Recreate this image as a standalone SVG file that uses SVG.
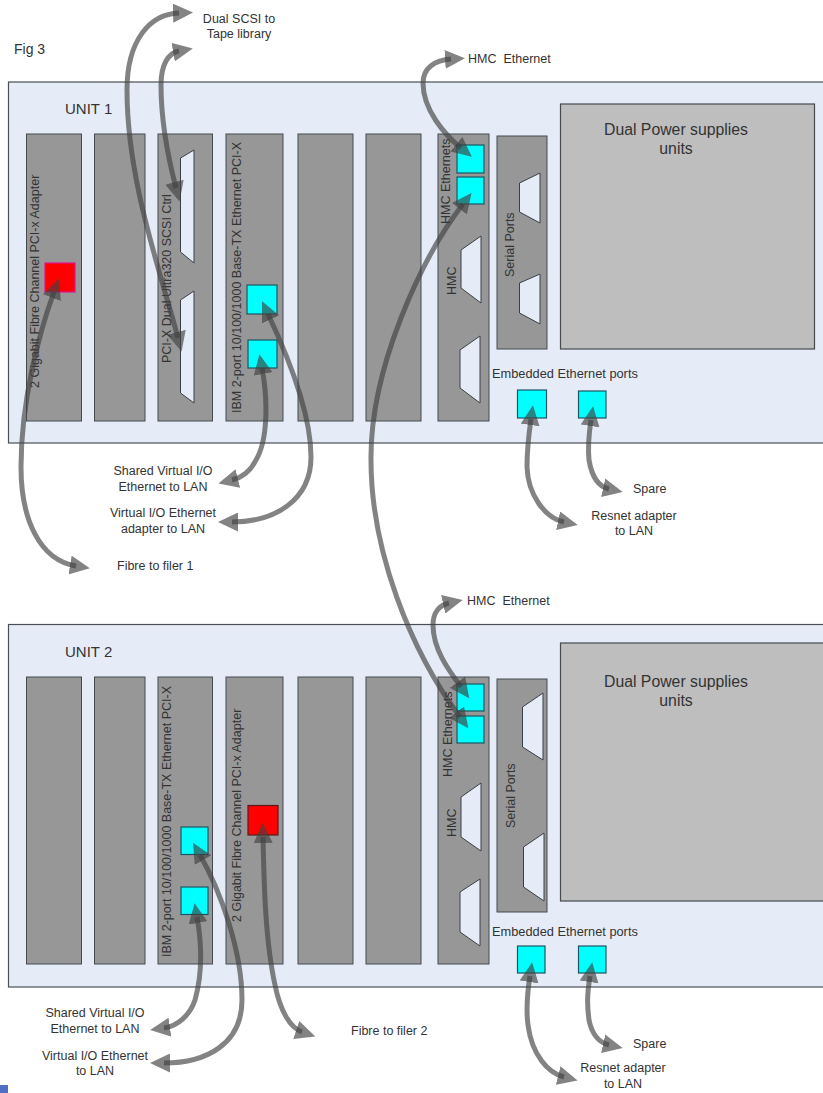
<svg xmlns="http://www.w3.org/2000/svg" width="823" height="1093" viewBox="0 0 823 1093">
<style>
text{font-family:"Liberation Sans",Arial,sans-serif;fill:#333;font-size:12.500px;white-space:pre}
.m{text-anchor:middle}
.unit{fill:#e6ecf7;stroke:#4a4f55;stroke-width:1.2}
.slot{fill:#979797;stroke:#454a4f;stroke-width:1}
.psu{fill:#bebebe;stroke:#454a4f;stroke-width:1.2}
.port{fill:#00ffff;stroke:#1d5560;stroke-width:1.2}
.red{fill:#ff0000;stroke:#5a1a1a;stroke-width:1.2}
.conn{fill:#e6ecf7;stroke:#3a3f45;stroke-width:1}
.v{font-size:12.500px}
.big{font-size:15px}
.psut{font-size:15.800px}
.link{fill:none;stroke:#404040;stroke-opacity:.65;stroke-width:5;marker-start:url(#head);marker-end:url(#head)}
</style>
<defs>
<marker id="head" markerUnits="userSpaceOnUse" markerWidth="20" markerHeight="19" viewBox="0 0 20 19" refX="6" refY="9.500" orient="auto-start-reverse"><path d="M0 0L20 9.500L0 19Z" fill="#404040" fill-opacity=".65"/></marker>
</defs>
<rect width="823" height="1093" fill="#fff"/>
<rect x="0" y="1085" width="8" height="8" fill="#4f6fc4"/>
<text x="14" y="54" style="font-size:14px">Fig 3</text>

<g id="unit1">
<rect class="unit" x="8.500" y="82" width="820" height="361"/>
<text class="big" x="65" y="114">UNIT 1</text>
<text x="492" y="378" id="u1-emb-label" style="font-size:12.800px">Embedded Ethernet ports</text>
</g>
<g id="u1-slot1"><rect class="slot" x="26.500" y="134" width="55" height="287"/><text class="v" transform="translate(39,388) rotate(-90)">2 Gigabit Fibre Channel PCI-x Adapter</text><rect x="45" y="263" width="30" height="29" fill="#ff0000" stroke="#e0148c" stroke-width="1.2"/></g>
<g id="u1-slot2"><rect class="slot" x="94.500" y="134" width="50.500" height="287"/></g>
<g id="u1-slot3"><rect class="slot" x="158" y="134" width="54.500" height="287"/><text class="v" transform="translate(171,363) rotate(-90)">PCI-X Dual Ultra320 SCSI Ctrl</text><path class="conn" d="M180.500 158L194 150V263L180.500 252Z"/><path class="conn" d="M180.500 300L194 291V403L180.500 393Z"/></g>
<g id="u1-slot4"><rect class="slot" x="226" y="134" width="57" height="287"/><text class="v" transform="translate(241,413) rotate(-90)">IBM 2-port 10/100/1000 Base-TX Ethernet PCI-X</text><rect class="port" x="247" y="285" width="30" height="29"/><rect class="port" x="248" y="340" width="29" height="28"/></g>
<g id="u1-slot5"><rect class="slot" x="298" y="134" width="55" height="287"/></g>
<g id="u1-slot6"><rect class="slot" x="366" y="134" width="55" height="287"/></g>
<g id="u1-hmc"><rect class="slot" x="438" y="134" width="51" height="287"/><text class="v" transform="translate(450,224) rotate(-90)">HMC Ethernets</text><text class="v" transform="translate(456,295) rotate(-90)">HMC</text><rect class="port" x="457" y="145" width="27" height="28"/><rect class="port" x="457" y="177" width="27" height="27"/><path class="conn" d="M461 250L481 236V303L461 288Z"/><path class="conn" d="M460 350L480 336V403L460 388Z"/></g>
<g id="u1-serial"><rect class="slot" x="497" y="136" width="50" height="213"/><text class="v" transform="translate(514,277) rotate(-90)">Serial Ports</text><path class="conn" d="M519.500 183L540 173V223L519.500 212Z"/><path class="conn" d="M519.500 283L540 274V324L519.500 313Z"/></g>
<g id="u1-psu"><rect class="psu" x="560.500" y="104" width="254" height="245"/><text class="m psut" x="676" y="135">Dual Power supplies</text><text class="m psut" x="676" y="154">units</text></g>
<g id="u1-emb1"><rect class="port" x="517.500" y="390" width="29" height="28"/></g>
<g id="u1-emb2"><rect class="port" x="578.500" y="391" width="27.500" height="27"/></g>

<g id="unit2">
<rect class="unit" x="8.500" y="624.500" width="820" height="362.500"/>
<text class="big" x="65" y="657">UNIT 2</text>
<text x="492" y="936" id="u2-emb-label" style="font-size:12.800px">Embedded Ethernet ports</text>
</g>
<g id="u2-slot1"><rect class="slot" x="26.500" y="677" width="55" height="287"/></g>
<g id="u2-slot2"><rect class="slot" x="94.500" y="677" width="50.500" height="287"/></g>
<g id="u2-slot3"><rect class="slot" x="158" y="677" width="54.500" height="287"/><text class="v" transform="translate(171,957) rotate(-90)">IBM 2-port 10/100/1000 Base-TX Ethernet PCI-X</text><rect class="port" x="181" y="827" width="27" height="27.500"/><rect class="port" x="181" y="887" width="27" height="27.500"/></g>
<g id="u2-slot4"><rect class="slot" x="226" y="677" width="57" height="287"/><text class="v" transform="translate(241,922) rotate(-90)">2 Gigabit Fibre Channel PCI-x Adapter</text><rect class="red" x="248" y="805.500" width="30" height="29.500"/></g>
<g id="u2-slot5"><rect class="slot" x="298" y="677" width="55" height="287"/></g>
<g id="u2-slot6"><rect class="slot" x="366" y="677" width="55" height="287"/></g>
<g id="u2-hmc"><rect class="slot" x="438" y="677" width="51" height="287"/><text class="v" transform="translate(452,777) rotate(-90)">HMC Ethernets</text><text class="v" transform="translate(456,837) rotate(-90)">HMC</text><rect class="port" x="457" y="684" width="27" height="27"/><rect class="port" x="457" y="716" width="27" height="27"/><path class="conn" d="M461 797L481 783V851L461 837Z"/><path class="conn" d="M460 892L480 879V946L460 932Z"/></g>
<g id="u2-serial"><rect class="slot" x="497" y="679" width="50" height="233"/><text class="v" transform="translate(515,828) rotate(-90)">Serial Ports</text><path class="conn" d="M522.500 707L543 693V760L522.500 747Z"/><path class="conn" d="M523.500 847L544 833V901L523.500 887Z"/></g>
<g id="u2-psu"><rect class="psu" x="560.500" y="643" width="268" height="258"/><text class="m psut" x="676" y="687">Dual Power supplies</text><text class="m psut" x="676" y="706">units</text></g>
<g id="u2-emb1"><rect class="port" x="517.500" y="946" width="27.500" height="27"/></g>
<g id="u2-emb2"><rect class="port" x="578.500" y="946" width="27.500" height="27"/></g>

<g id="connectors">
<path class="link" d="M54 292C40 330 21 400 21 467C21 520 40 560 76 566"/>
<path class="link" d="M179 13C150 14 127 40 127 90C127 180 160 270 178 338"/>
<path class="link" d="M179 51C168 53 161 65 161 85C161 125 170 165 176 188"/>
<path class="link" d="M262 368C268 400 268 440 256 460C250 472 240 478 232 480"/>
<path class="link" d="M268 314C285 350 311 410 311 457C311 500 275 522 232 522"/>
<path class="link" d="M463 204C420 260 370 370 371 460C371 550 410 650 460 717"/>
<path class="link" d="M451 59C435 60 423 68 423 83C423 110 445 135 461 148"/>
<path class="link" d="M449 603C440 605 433 612 433 625C433 650 450 672 461 687"/>
<path class="link" d="M531 419C528 440 527 450 527 467C528 495 545 518 564 522"/>
<path class="link" d="M591 420C588 440 588 450 589 460C592 478 600 487 609 489"/>
<path class="link" d="M197 917C202 945 202 975 195 1000C190 1015 178 1026 164 1028"/>
<path class="link" d="M200 855C220 890 242 950 242 1000C242 1045 205 1063 164 1063"/>
<path class="link" d="M263 837C264 880 265 940 275 985C280 1010 290 1028 302 1032"/>
<path class="link" d="M530 976C527 995 526 1010 528 1025C532 1055 548 1073 564 1077"/>
<path class="link" d="M590 976C587 995 587 1005 589 1020C592 1035 600 1043 609 1045"/>
</g>

<g id="labels">
<text class="m" x="239" y="23">Dual SCSI to</text><text class="m" x="239" y="38">Tape library</text>
<text x="468" y="63">HMC  Ethernet</text>
<text class="m" x="163" y="475">Shared Virtual I/O</text><text class="m" x="163" y="491">Ethernet to LAN</text>
<text class="m" x="163" y="517">Virtual I/O Ethernet</text><text class="m" x="163" y="533">adapter to LAN</text>
<text x="117" y="570">Fibre to filer 1</text>
<text x="633" y="493">Spare</text>
<text class="m" x="634" y="520">Resnet adapter</text><text class="m" x="634" y="535">to LAN</text>
<text x="467" y="605">HMC  Ethernet</text>
<text class="m" x="95" y="1017">Shared Virtual I/O</text><text class="m" x="95" y="1033">Ethernet to LAN</text>
<text class="m" x="95" y="1060">Virtual I/O Ethernet</text><text class="m" x="95" y="1075">to LAN</text>
<text x="351" y="1035">Fibre to filer 2</text>
<text x="633" y="1048">Spare</text>
<text class="m" x="623" y="1072">Resnet adapter</text><text class="m" x="623" y="1088">to LAN</text>
</g>
</svg>
